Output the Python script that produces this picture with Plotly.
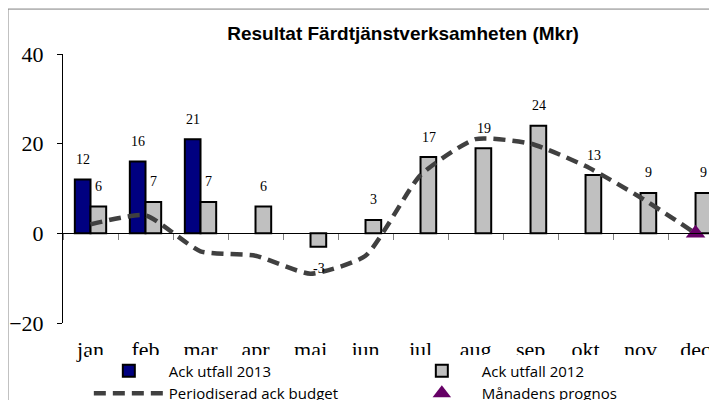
import plotly.graph_objects as go

months = ["jan", "feb", "mar", "apr", "maj", "jun", "jul", "aug", "sep", "okt", "nov", "dec"]
utfall_2013 = [12, 16, 21, None, None, None, None, None, None, None, None, None]
utfall_2012 = [6, 7, 7, 6, -3, 3, 17, 19, 24, 13, 9, 9]
budget = [2, 4, -4, -5, -9, -5, 13, 21, 20, 15, 8, 0]
prognos = [None, None, None, None, None, None, None, None, None, None, None, 0]
y_ticks = [-20, 0, 20, 40]

serif = "Liberation Serif, Times New Roman, serif"
sans = "Liberation Sans, Arial, sans-serif"

fig = go.Figure()
fig.add_trace(go.Bar(
    x=months, y=utfall_2013, name="Ack utfall 2013",
    marker=dict(color="#000080", line=dict(color="black", width=2)),
))
fig.add_trace(go.Bar(
    x=months, y=utfall_2012, name="Ack utfall 2012",
    marker=dict(color="#C0C0C0", line=dict(color="black", width=2)),
))
fig.add_trace(go.Scatter(
    x=months, y=budget, name="Periodiserad ack budget", mode="lines",
    line=dict(color="#404040", width=4.5, dash="12px,7px", shape="spline", smoothing=0.55),
))
fig.add_trace(go.Scatter(
    x=months, y=prognos, name="Månadens prognos", mode="markers",
    marker=dict(symbol="triangle-up", size=17, color="#660066"),
))

annotations = []
for series, shift in ((utfall_2013, -8), (utfall_2012, 8)):
    for m, v in zip(months, series):
        if v is None:
            continue
        annotations.append(dict(
            x=m, y=v, text=str(v), showarrow=False, xshift=shift,
            yshift=20 if v >= 0 else -22,
            font=dict(family=serif, size=14, color="black"),
        ))

fig.update_layout(
    width=709, height=392,
    margin=dict(l=55, r=0, t=46, b=77, autoexpand=False),
    paper_bgcolor="white", plot_bgcolor="white",
    barmode="group", bargap=0.43, bargroupgap=0,
    title=dict(
        text="<b>Resultat Färdtjänstverksamheten (Mkr)</b>",
        x=0.52, xref="paper", xanchor="center",
        y=0.936, yref="container", yanchor="middle",
        font=dict(family=sans, size=19, color="black"),
    ),
    xaxis=dict(
        type="category", range=[-0.5, 11.39],
        anchor="free", position=1 / 3, automargin=False,
        showline=True, linecolor="black", linewidth=1,
        ticks="outside", tickson="boundaries", ticklen=6, tickcolor="#808080",
        showgrid=False, zeroline=False,
        ticklabelstandoff=96,
        tickfont=dict(family=serif, size=22, color="black"),
    ),
    yaxis=dict(
        range=[-20, 40], tickvals=y_ticks, automargin=False,
        showline=True, linecolor="black", linewidth=1,
        ticks="outside", ticklen=5, tickcolor="black",
        showgrid=False, zeroline=False,
        ticklabelstandoff=9,
        tickfont=dict(family=serif, size=22, color="black"),
    ),
    legend=dict(
        orientation="h", xref="container", x=0.114, xanchor="left",
        yref="container", y=0.116, yanchor="top",
        entrywidth=228, entrywidthmode="pixels", itemwidth=70,
        bgcolor="white", traceorder="normal",
        font=dict(family="Open Sans, Liberation Sans, sans-serif", size=15, color="black"),
    ),
    annotations=annotations,
    shapes=[dict(
        type="rect", xref="paper", yref="paper",
        x0=-0.0841, x1=1.2, y0=-0.6, y1=1.167,
        line=dict(color="#808080", width=1), fillcolor="rgba(0,0,0,0)", layer="below",
    )],
    showlegend=True,
)

fig.write_html("out.html")
